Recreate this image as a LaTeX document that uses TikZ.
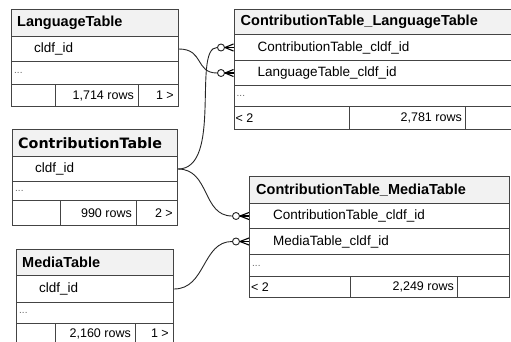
\documentclass[tikz,border=0pt]{standalone}
\usepackage{fontspec}
\setmainfont{Liberation Sans}
\newfontfamily\djv{DejaVu Sans}
\definecolor{bordc}{HTML}{444444}
\definecolor{hdrfill}{HTML}{F2F2F2}
\begin{document}
\begin{tikzpicture}[x=1pt,y=-1pt,
  cell/.style={draw=bordc, line width=1pt, rectangle, inner sep=0pt, anchor=north west, fill=white},
  hcell/.style={cell, fill=hdrfill},
  htext/.style={anchor=west, inner sep=0pt, font=\fontsize{14.5}{16}\selectfont\bfseries},
  rtext/.style={anchor=west, inner sep=0pt, font=\fontsize{13.5}{15}\selectfont},
  dtext/.style={anchor=west, inner sep=0pt, font=\fontsize{10}{11}\selectfont, text=black!60},
  ftext/.style={inner sep=0pt, font=\fontsize{12.5}{14}\selectfont},
  conn/.style={draw=black!85, line width=0.9pt},
  opt/.style={circle, draw=black!85, line width=0.9pt, fill=white, minimum size=7pt, inner sep=0pt},
  crow/.style={draw=black, line width=1.1pt}
]
\useasboundingbox (0,0) rectangle (511,341);
\clip (0,0) rectangle (511,341);

% ---------------- LanguageTable
\node[hcell, minimum width=167pt, minimum height=27pt] (LTh) at (11,9) {};
\node[cell, minimum width=167pt, minimum height=25pt] (LTr) at (11,36) {};
\node[cell, minimum width=167pt, minimum height=23pt] (LTd) at (11,61) {};
\node[cell, minimum width=44pt, minimum height=22pt] (LTf1) at (11,84) {};
\node[cell, minimum width=83pt, minimum height=22pt] (LTf2) at (55,84) {};
\node[cell, minimum width=40pt, minimum height=22pt] (LTf3) at (138,84) {};
\node[htext] (LTht) at ([xshift=6pt]LTh.west) {LanguageTable};
\node[rtext] (LTrt) at ([xshift=23pt]LTr.west) {cldf\_id};
\node[dtext] (LTdt) at ([xshift=3pt]LTd.west) {...};
\node[ftext, anchor=east] (LTf2t) at ([xshift=-5pt]LTf2.east) {1,714 rows};
\node[ftext, anchor=east] (LTf3t) at ([xshift=-5pt]LTf3.east) {1 >};

% ---------------- ContributionTable
\node[hcell, minimum width=165pt, minimum height=27pt] (CTh) at (12,129) {};
\node[cell, minimum width=165pt, minimum height=25pt] (CTr) at (12,156) {};
\node[cell, minimum width=165pt, minimum height=19pt] (CTd) at (12,181) {};
\node[cell, minimum width=48pt, minimum height=25pt] (CTf1) at (12,200) {};
\node[cell, minimum width=76pt, minimum height=25pt] (CTf2) at (60,200) {};
\node[cell, minimum width=41pt, minimum height=25pt] (CTf3) at (136,200) {};
\node[htext, font=\djv\fontsize{14.3}{16}\selectfont\bfseries] (CTht) at ([xshift=6pt]CTh.west) {ContributionTable};
\node[rtext] (CTrt) at ([xshift=23pt]CTr.west) {cldf\_id};
\node[dtext] (CTdt) at ([xshift=3pt]CTd.west) {...};
\node[ftext, anchor=east] (CTf2t) at ([xshift=-5pt]CTf2.east) {990 rows};
\node[ftext, anchor=east] (CTf3t) at ([xshift=-5pt]CTf3.east) {2 >};

% ---------------- MediaTable
\node[hcell, minimum width=157pt, minimum height=26pt] (MTh) at (16,249) {};
\node[cell, minimum width=157pt, minimum height=27pt] (MTr) at (16,275) {};
\node[cell, minimum width=157pt, minimum height=21pt] (MTd) at (16,302) {};
\node[cell, minimum width=39pt, minimum height=24pt] (MTf1) at (16,323) {};
\node[cell, minimum width=80pt, minimum height=24pt] (MTf2) at (55,323) {};
\node[cell, minimum width=38pt, minimum height=24pt] (MTf3) at (135,323) {};
\node[htext] (MTht) at ([xshift=6pt]MTh.west) {MediaTable};
\node[rtext] (MTrt) at ([xshift=23pt]MTr.west) {cldf\_id};
\node[dtext] (MTdt) at ([xshift=3pt]MTd.west) {...};
\node[ftext, anchor=east] (MTf2t) at ([xshift=-5pt,yshift=2pt]MTf2.east) {2,160 rows};
\node[ftext, anchor=east] (MTf3t) at ([xshift=-5pt,yshift=2pt]MTf3.east) {1 >};

% ---------------- ContributionTable_LanguageTable
\node[hcell, minimum width=300pt, minimum height=25pt] (CLh) at (233.5,9) {};
\node[cell, minimum width=300pt, minimum height=26pt] (CLr1) at (233.5,34) {};
\node[cell, minimum width=300pt, minimum height=25pt] (CLr2) at (233.5,60) {};
\node[cell, minimum width=300pt, minimum height=21pt] (CLd) at (233.5,85) {};
\node[cell, minimum width=115.5pt, minimum height=23pt] (CLf1) at (233.5,106) {};
\node[cell, minimum width=116pt, minimum height=23pt] (CLf2) at (349,106) {};
\node[cell, minimum width=70pt, minimum height=23pt] (CLf3) at (465,106) {};
\node[htext] (CLht) at ([xshift=7pt]CLh.west) {ContributionTable\_LanguageTable};
\node[rtext] (CLr1t) at ([xshift=24pt]CLr1.west) {ContributionTable\_cldf\_id};
\node[rtext] (CLr2t) at ([xshift=24pt]CLr2.west) {LanguageTable\_cldf\_id};
\node[dtext] (CLdt) at ([xshift=3pt]CLd.west) {...};
\node[ftext, anchor=west] (CLf1t) at ([xshift=2pt]CLf1.west) {< 2};
\node[ftext, anchor=east] (CLf2t) at ([xshift=-4pt]CLf2.east) {2,781 rows};

% ---------------- ContributionTable_MediaTable
\node[hcell, minimum width=260pt, minimum height=27pt] (CMh) at (249,176) {};
\node[cell, minimum width=260pt, minimum height=25pt] (CMr1) at (249,203) {};
\node[cell, minimum width=260pt, minimum height=26pt] (CMr2) at (249,228) {};
\node[cell, minimum width=260pt, minimum height=22pt] (CMd) at (249,254) {};
\node[cell, minimum width=101pt, minimum height=21pt] (CMf1) at (249,276) {};
\node[cell, minimum width=107pt, minimum height=21pt] (CMf2) at (350,276) {};
\node[cell, minimum width=52pt, minimum height=21pt] (CMf3) at (457,276) {};
\node[htext] (CMht) at ([xshift=7pt]CMh.west) {ContributionTable\_MediaTable};
\node[rtext] (CMr1t) at ([xshift=24pt]CMr1.west) {ContributionTable\_cldf\_id};
\node[rtext] (CMr2t) at ([xshift=24pt]CMr2.west) {MediaTable\_cldf\_id};
\node[dtext] (CMdt) at ([xshift=3pt]CMd.west) {...};
\node[ftext, anchor=west] (CMf1t) at ([xshift=2pt]CMf1.west) {< 2};
\node[ftext, anchor=east] (CMf2t) at ([xshift=-4pt]CMf2.east) {2,249 rows};

% ---------------- optional-many markers
\node[opt] (o1) at ([xshift=-12.5pt]CLr1.west) {};
\node[opt] (o2) at ([xshift=-12.5pt]CLr2.west) {};
\node[opt] (o3) at ([xshift=-13pt]CMr1.west) {};
\node[opt] (o4) at ([xshift=-13pt]CMr2.west) {};
\foreach \o/\r in {o1/CLr1, o2/CLr2, o3/CMr1, o4/CMr2}{
  \draw[crow] (\o.east) -- ([yshift=-3.5pt]\r.west);
  \draw[crow] (\o.east) -- (\r.west);
  \draw[crow] (\o.east) -- ([yshift=3.5pt]\r.west);
}

% ---------------- connectors
\draw[conn] (LTr.east) .. controls +(25,0) and +(-22,0) .. (o2.west);
\draw[conn] (CTr.east) .. controls +(45,0) and +(-25,0) .. (o1.west);
\draw[conn] (CTr.east) .. controls +(32,0) and +(-30,0) .. (o3.west);
\draw[conn] (MTr.east) .. controls +(32,0) and +(-30,0) .. (o4.west);
\end{tikzpicture}
\end{document}
